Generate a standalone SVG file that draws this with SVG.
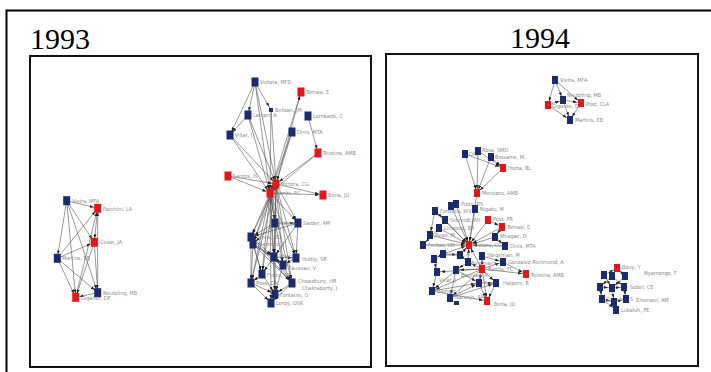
<svg xmlns="http://www.w3.org/2000/svg" width="711" height="372" viewBox="0 0 711 372">
<style>
.frame{fill:none;stroke:#000;stroke-width:2}
.box{fill:#fff;stroke:#111;stroke-width:2}
.year{font-family:"Liberation Serif",serif;font-size:30px;fill:#000}
.b{fill:#1c2a6e}
.r{fill:#e8141c}
.lb{font-family:"DejaVu Sans Condensed","Liberation Sans",sans-serif;font-size:5.5px;fill:#8a8a8a}
.e line{stroke:#555;stroke-width:0.6;marker-end:url(#ah)}
</style>
<defs>
<marker id="ah" markerUnits="userSpaceOnUse" markerWidth="4" markerHeight="3" refX="8" refY="1.5" orient="auto"><path d="M0,0L4,1.5L0,3z" fill="#222"/></marker>
</defs>
<rect x="0" y="0" width="711" height="372" fill="#fff"/>
<rect class="frame" x="6.5" y="10.5" width="720" height="400"/>
<text class="year" x="30" y="49">1993</text>
<text class="year" x="510" y="48">1994</text>
<rect class="box" x="30" y="56" width="341" height="311"/>
<rect class="box" x="386" y="54" width="312" height="312"/>
<g id="connectors" class="e">
<!-- 1993 left -->
<line x1="66.7" y1="200.7" x2="97.7" y2="208.3"/>
<line x1="66.7" y1="200.7" x2="94.3" y2="242.3"/>
<line x1="66.7" y1="200.7" x2="57.3" y2="258.3"/>
<line x1="66.7" y1="200.7" x2="97.7" y2="292.7"/>
<line x1="66.7" y1="200.7" x2="75.7" y2="297.3"/>
<line x1="97.7" y1="208.3" x2="94.3" y2="242.3"/>
<line x1="57.3" y1="258.3" x2="97.7" y2="208.3"/>
<line x1="97.7" y1="292.7" x2="97.7" y2="208.3"/>
<line x1="75.7" y1="297.3" x2="97.7" y2="208.3"/>
<line x1="57.3" y1="258.3" x2="94.3" y2="242.3"/>
<line x1="94.3" y1="242.3" x2="97.7" y2="292.7"/>
<line x1="94.3" y1="242.3" x2="75.7" y2="297.3"/>
<line x1="57.3" y1="258.3" x2="97.7" y2="292.7"/>
<line x1="57.3" y1="258.3" x2="75.7" y2="297.3"/>
<line x1="97.7" y1="292.7" x2="75.7" y2="297.3"/>
<!-- 1993 centre top -->
<line x1="255" y1="82" x2="248" y2="115"/>
<line x1="255" y1="82" x2="230" y2="135"/>
<line x1="255" y1="82" x2="271" y2="110"/>
<line x1="255" y1="82" x2="276" y2="184"/>
<line x1="255" y1="82" x2="270" y2="193"/>
<line x1="248" y1="115" x2="230" y2="135"/>
<line x1="248" y1="115" x2="276" y2="184"/>
<line x1="248" y1="115" x2="270" y2="193"/>
<line x1="230" y1="135" x2="276" y2="184"/>
<line x1="230" y1="135" x2="270" y2="193"/>
<line x1="271" y1="110" x2="276" y2="184"/>
<line x1="271" y1="110" x2="270" y2="193"/>
<line x1="270" y1="193" x2="301" y2="92"/>
<line x1="276" y1="184" x2="301" y2="92"/>
<line x1="292" y1="132" x2="276" y2="184"/>
<line x1="292" y1="132" x2="270" y2="193"/>
<line x1="308" y1="116" x2="318" y2="153"/>
<line x1="318" y1="153" x2="270" y2="193"/>
<line x1="318" y1="153" x2="276" y2="184"/>
<line x1="228" y1="176" x2="276" y2="184"/>
<line x1="228" y1="176" x2="270" y2="193"/>
<line x1="276" y1="184" x2="323" y2="195"/>
<line x1="270" y1="193" x2="323" y2="195"/>
<line x1="276" y1="184" x2="270" y2="193"/>
<!-- 1993 centre bottom -->
<line x1="270" y1="193" x2="275" y2="223"/>
<line x1="270" y1="193" x2="298" y2="223"/>
<line x1="270" y1="193" x2="251" y2="237"/>
<line x1="270" y1="193" x2="253" y2="244"/>
<line x1="270" y1="193" x2="274" y2="257"/>
<line x1="270" y1="193" x2="296" y2="258"/>
<line x1="270" y1="193" x2="283" y2="265"/>
<line x1="270" y1="193" x2="262" y2="274"/>
<line x1="270" y1="193" x2="251" y2="283"/>
<line x1="270" y1="193" x2="292" y2="283"/>
<line x1="270" y1="193" x2="275" y2="294"/>
<line x1="270" y1="193" x2="271" y2="303"/>
<line x1="276" y1="184" x2="275" y2="223"/>
<line x1="276" y1="184" x2="298" y2="223"/>
<line x1="276" y1="184" x2="251" y2="237"/>
<line x1="276" y1="184" x2="253" y2="244"/>
<line x1="276" y1="184" x2="274" y2="257"/>
<line x1="276" y1="184" x2="296" y2="258"/>
<line x1="276" y1="184" x2="283" y2="265"/>
<line x1="276" y1="184" x2="262" y2="274"/>
<line x1="276" y1="184" x2="251" y2="283"/>
<line x1="276" y1="184" x2="292" y2="283"/>
<line x1="276" y1="184" x2="275" y2="294"/>
<line x1="275" y1="223" x2="298" y2="223"/>
<line x1="275" y1="223" x2="251" y2="237"/>
<line x1="275" y1="223" x2="253" y2="244"/>
<line x1="275" y1="223" x2="274" y2="257"/>
<line x1="298" y1="223" x2="296" y2="258"/>
<line x1="298" y1="223" x2="274" y2="257"/>
<line x1="298" y1="223" x2="251" y2="237"/>
<line x1="251" y1="237" x2="253" y2="244"/>
<line x1="251" y1="237" x2="274" y2="257"/>
<line x1="251" y1="237" x2="251" y2="283"/>
<line x1="253" y1="244" x2="274" y2="257"/>
<line x1="253" y1="244" x2="262" y2="274"/>
<line x1="253" y1="244" x2="251" y2="283"/>
<line x1="274" y1="257" x2="296" y2="258"/>
<line x1="274" y1="257" x2="283" y2="265"/>
<line x1="274" y1="257" x2="262" y2="274"/>
<line x1="274" y1="257" x2="292" y2="283"/>
<line x1="296" y1="258" x2="283" y2="265"/>
<line x1="283" y1="265" x2="292" y2="283"/>
<line x1="283" y1="265" x2="275" y2="294"/>
<line x1="262" y1="274" x2="251" y2="283"/>
<line x1="262" y1="274" x2="275" y2="294"/>
<line x1="251" y1="283" x2="275" y2="294"/>
<line x1="251" y1="283" x2="271" y2="303"/>
<line x1="292" y1="283" x2="275" y2="294"/>
<line x1="292" y1="283" x2="271" y2="303"/>
<line x1="275" y1="294" x2="271" y2="303"/>
<line x1="251" y1="237" x2="262" y2="274"/>
<line x1="253" y1="244" x2="283" y2="265"/>
<line x1="274" y1="257" x2="275" y2="294"/>
<line x1="251" y1="237" x2="292" y2="283"/>
<line x1="253" y1="244" x2="292" y2="283"/>
<!-- 1994 top -->
<line x1="555" y1="80" x2="548" y2="105"/>
<line x1="555" y1="80" x2="563" y2="100"/>
<line x1="555" y1="80" x2="581" y2="103"/>
<line x1="548" y1="105" x2="570" y2="120"/>
<line x1="563" y1="100" x2="570" y2="120"/>
<line x1="581" y1="103" x2="570" y2="120"/>
<line x1="548" y1="105" x2="563" y2="100"/>
<line x1="563" y1="100" x2="581" y2="103"/>
<!-- 1994 middle -->
<line x1="465" y1="154" x2="503" y2="168"/>
<line x1="478" y1="151" x2="503" y2="168"/>
<line x1="491" y1="157" x2="503" y2="168"/>
<line x1="465" y1="154" x2="477" y2="193"/>
<line x1="478" y1="151" x2="477" y2="193"/>
<line x1="491" y1="157" x2="477" y2="193"/>
<line x1="503" y1="168" x2="477" y2="193"/>
<line x1="477" y1="193" x2="469" y2="245"/>
<!-- 1994 lower -->
<line x1="435" y1="211" x2="469" y2="245"/>
<line x1="451" y1="206" x2="469" y2="245"/>
<line x1="456" y1="204" x2="469" y2="245"/>
<line x1="445" y1="220" x2="469" y2="245"/>
<line x1="475" y1="209" x2="469" y2="245"/>
<line x1="488" y1="220" x2="469" y2="245"/>
<line x1="502" y1="227" x2="469" y2="245"/>
<line x1="439" y1="228" x2="469" y2="245"/>
<line x1="495" y1="237" x2="469" y2="245"/>
<line x1="430" y1="235" x2="469" y2="245"/>
<line x1="423" y1="245" x2="469" y2="245"/>
<line x1="505" y1="246" x2="469" y2="245"/>
<line x1="443" y1="254" x2="469" y2="245"/>
<line x1="460" y1="255" x2="469" y2="245"/>
<line x1="468" y1="262" x2="469" y2="245"/>
<line x1="482" y1="269" x2="469" y2="245"/>
<line x1="488" y1="220" x2="502" y2="227"/>
<line x1="435" y1="211" x2="445" y2="220"/>
<line x1="435" y1="211" x2="430" y2="235"/>
<line x1="439" y1="228" x2="423" y2="245"/>
<line x1="495" y1="237" x2="505" y2="246"/>
<line x1="502" y1="227" x2="495" y2="237"/>
<line x1="482" y1="269" x2="526" y2="274"/>
<line x1="482" y1="269" x2="503" y2="262"/>
<line x1="482" y1="269" x2="482" y2="256"/>
<line x1="482" y1="269" x2="479" y2="283"/>
<line x1="482" y1="269" x2="496" y2="283"/>
<line x1="482" y1="269" x2="487" y2="301"/>
<line x1="482" y1="269" x2="456" y2="270"/>
<line x1="482" y1="269" x2="450" y2="298"/>
<line x1="482" y1="269" x2="432" y2="291"/>
<line x1="482" y1="269" x2="437" y2="272"/>
<line x1="482" y1="269" x2="468" y2="262"/>
<line x1="456" y1="270" x2="450" y2="298"/>
<line x1="456" y1="270" x2="432" y2="291"/>
<line x1="456" y1="270" x2="479" y2="283"/>
<line x1="450" y1="298" x2="479" y2="283"/>
<line x1="432" y1="291" x2="479" y2="283"/>
<line x1="479" y1="283" x2="496" y2="283"/>
<line x1="479" y1="283" x2="487" y2="301"/>
<line x1="496" y1="283" x2="487" y2="301"/>
<line x1="443" y1="254" x2="434" y2="259"/>
<line x1="434" y1="259" x2="437" y2="272"/>
<line x1="437" y1="272" x2="432" y2="291"/>
<line x1="443" y1="254" x2="460" y2="255"/>
<line x1="460" y1="255" x2="468" y2="262"/>
<line x1="482" y1="256" x2="503" y2="262"/>
<line x1="503" y1="262" x2="526" y2="274"/>
<line x1="468" y1="262" x2="456" y2="270"/>
<line x1="450" y1="298" x2="496" y2="283"/>
<line x1="432" y1="291" x2="487" y2="301"/>
<!-- 1994 right -->
<line x1="604" y1="275" x2="617" y2="268"/>
<line x1="612" y1="276" x2="617" y2="268"/>
<line x1="625" y1="276" x2="617" y2="268"/>
<line x1="604" y1="275" x2="612" y2="288"/>
<line x1="612" y1="276" x2="600" y2="287"/>
<line x1="625" y1="276" x2="612" y2="288"/>
<line x1="612" y1="276" x2="624" y2="287"/>
<line x1="600" y1="287" x2="612" y2="288"/>
<line x1="612" y1="288" x2="624" y2="287"/>
<line x1="600" y1="287" x2="602" y2="299"/>
<line x1="612" y1="288" x2="614" y2="302"/>
<line x1="624" y1="287" x2="626" y2="299"/>
<line x1="602" y1="299" x2="614" y2="302"/>
<line x1="614" y1="302" x2="626" y2="299"/>
<line x1="614" y1="302" x2="616" y2="310"/>
<line x1="602" y1="299" x2="616" y2="310"/>
</g>
<!-- 1993 left nodes -->
<g id="n93-vieira"><rect class="b" x="63.2" y="196.2" width="7" height="9"/><text class="lb" x="72" y="203">Vieira, MFA</text></g>
<g id="n93-facchini"><rect class="r" x="94.2" y="203.8" width="7" height="9"/><text class="lb" x="103" y="211">Facchini, LA</text></g>
<g id="n93-cesar"><rect class="r" x="90.8" y="237.8" width="7" height="9"/><text class="lb" x="100" y="244">Cesar, JA</text></g>
<g id="n93-martins"><rect class="b" x="53.8" y="253.8" width="7" height="9"/><text class="lb" x="62" y="260">Martins, EB</text></g>
<g id="n93-neutzling"><rect class="b" x="94.2" y="288.2" width="7" height="9"/><text class="lb" x="103" y="295">Neutzling, MB</text></g>
<g id="n93-gigante"><rect class="r" x="72.2" y="292.8" width="7" height="9"/><text class="lb" x="81" y="300">Gigante, DP</text></g>
<!-- 1993 centre nodes -->
<g id="n93-victora-mfd"><rect class="b" x="251.5" y="77.5" width="7" height="9"/><text class="lb" x="260" y="84">Victora, MFD</text></g>
<g id="n93-tomasi"><rect class="r" x="297.5" y="87.5" width="7" height="9"/><text class="lb" x="306" y="94">Tomasi, E</text></g>
<g id="n93-belizan"><rect class="b" x="269" y="108" width="4" height="4"/><text class="lb" x="275" y="112">Belizan, JM</text></g>
<g id="n93-lombardi"><rect class="b" x="304.5" y="111.5" width="7" height="9"/><text class="lb" x="313" y="118">Lombardi, C</text></g>
<g id="n93-langer"><rect class="b" x="244.5" y="110.5" width="7" height="9"/><text class="lb" x="253" y="117">Langer, A</text></g>
<g id="n93-villar"><rect class="b" x="226.5" y="130.5" width="7" height="9"/><text class="lb" x="235" y="137">Villar, J</text></g>
<g id="n93-dinis"><rect class="b" x="288.5" y="127.5" width="7" height="9"/><text class="lb" x="297" y="134">Dinis, MTA</text></g>
<g id="n93-teixeira"><rect class="r" x="314.5" y="148.5" width="7" height="9"/><text class="lb" x="323" y="155">Teixeira, AMB</text></g>
<g id="n93-santos"><rect class="r" x="224.5" y="171.5" width="7" height="9"/><text class="lb" x="233" y="178">Santos, IS</text></g>
<g id="n93-victora-cg"><rect class="r" x="272.5" y="179.5" width="7" height="9"/><text class="lb" x="281" y="186">Victora, CG</text></g>
<g id="n93-barros"><rect class="r" x="266.5" y="188.5" width="7" height="9"/><text class="lb" x="275" y="195">Barros, FC</text></g>
<g id="n93-beria"><rect class="r" x="319.5" y="190.5" width="7" height="9"/><text class="lb" x="328" y="197">Béria, JU</text></g>
<g id="n93-gavere"><rect class="b" x="271.5" y="218.5" width="7" height="9"/><text class="lb" x="280" y="225">Gavere</text></g>
<g id="n93-sarder"><rect class="b" x="294.5" y="218.5" width="7" height="9"/><text class="lb" x="303" y="225">Sarder, AM</text></g>
<g id="n93-yunus"><rect class="b" x="247.5" y="232.5" width="7" height="9"/><text class="lb" x="256" y="239">Yunus, MD</text></g>
<g id="n93-martinez"><rect class="b" x="249.5" y="239.5" width="7" height="9"/><text class="lb" x="258" y="246">Martinez, J</text></g>
<g id="n93-khan"><rect class="b" x="270.5" y="252.5" width="7" height="9"/><text class="lb" x="279" y="258">Khan, M</text></g>
<g id="n93-huttly"><rect class="b" x="292.5" y="253.5" width="7" height="9"/><text class="lb" x="302" y="261">Huttly, SR</text></g>
<g id="n93-fauveau"><rect class="b" x="279.5" y="260.5" width="7" height="9"/><text class="lb" x="289" y="270">Fauveau, V</text></g>
<g id="n93-fuchs"><rect class="b" x="258.5" y="269.5" width="7" height="9"/><text class="lb" x="267" y="277">Fuchs, SC</text></g>
<g id="n93-ross"><rect class="b" x="247.5" y="278.5" width="7" height="9"/><text class="lb" x="256" y="285">Ross, DA</text></g>
<g id="n93-chowdhury"><rect class="b" x="288.5" y="278.5" width="7" height="9"/><text class="lb" x="298" y="283">Chowdhury, HR</text></g>
<g id="n93-fontaine"><rect class="b" x="271.5" y="289.5" width="7" height="9"/><text class="lb" x="280" y="297">Fontaine, O</text></g>
<g id="n93-chakraborty"><text class="lb" x="302" y="290">Chakraborty, J</text></g>
<g id="n93-leroy"><rect class="b" x="267.5" y="298.5" width="7" height="9"/><text class="lb" x="276" y="305">Leroy, OSK</text></g>
<!-- 1994 top nodes -->
<g id="n94-vieira"><rect class="b" x="552" y="76" width="6" height="8"/><text class="lb" x="560" y="82">Vieira, MFA</text></g>
<g id="n94-neutzling"><rect class="b" x="560" y="96" width="6" height="8"/><text class="lb" x="567" y="97">Neutzling, MB</text></g>
<g id="n94-gigante"><rect class="r" x="545" y="101" width="6" height="8"/><text class="lb" x="552" y="108">Gigante, DP</text></g>
<g id="n94-post-cla"><rect class="r" x="578" y="99" width="6" height="8"/><text class="lb" x="586" y="106">Post, CLA</text></g>
<g id="n94-martins"><rect class="b" x="567" y="116" width="6" height="8"/><text class="lb" x="575" y="122">Martins, EB</text></g>
<!-- 1994 middle nodes -->
<g id="n94-oliv"><rect class="b" x="462" y="150" width="6" height="8"/><text class="lb" x="469" y="156">Oliv</text></g>
<g id="n94-rosa"><rect class="b" x="475" y="147" width="6" height="8"/><text class="lb" x="482" y="151.5">Rosa, SMD</text></g>
<g id="n94-brosame"><rect class="b" x="488" y="153" width="6" height="8"/><text class="lb" x="495" y="159">Brosame, M</text></g>
<g id="n94-horta"><rect class="r" x="500" y="164" width="6" height="8"/><text class="lb" x="508" y="170">Horta, BL</text></g>
<g id="n94-menezes"><rect class="r" x="474" y="189" width="6" height="8"/><text class="lb" x="482" y="195">Menezes, AMB</text></g>
<!-- 1994 lower nodes -->
<g id="n94-fonseca"><rect class="b" x="432" y="207" width="6" height="8"/><text class="lb" x="440" y="213">Fonseca, WV</text></g>
<g id="n94-pizzo1"><rect class="b" x="448" y="202" width="6" height="8"/></g>
<g id="n94-pizzo2"><rect class="b" x="453" y="200" width="6" height="8"/><text class="lb" x="461" y="206">Pizzo, RS</text></g>
<g id="n94-schmidt"><rect class="b" x="442" y="216" width="6" height="8"/><text class="lb" x="450" y="222">Schmidt, AH</text></g>
<g id="n94-nigatu"><rect class="b" x="472" y="205" width="6" height="8"/><text class="lb" x="480" y="211">Nigatu, M</text></g>
<g id="n94-post-pr"><rect class="r" x="485" y="216" width="6" height="8"/><text class="lb" x="493" y="221">Post, PR</text></g>
<g id="n94-tomasi"><rect class="r" x="499" y="223" width="6" height="8"/><text class="lb" x="507" y="229">Tomasi, E</text></g>
<g id="n94-linwood"><rect class="b" x="436" y="224" width="6" height="8"/><text class="lb" x="444" y="230">Linwood, BR</text></g>
<g id="n94-mhagae"><rect class="b" x="492" y="233" width="6" height="8"/><text class="lb" x="500" y="238">Mhagae, D</text></g>
<g id="n94-rego"><rect class="b" x="427" y="231" width="6" height="8"/><text class="lb" x="435" y="237">Rego, M</text></g>
<g id="n94-freitas"><rect class="b" x="420" y="241" width="6" height="8"/><text class="lb" x="428" y="247">Freitas, SM</text></g>
<g id="n94-victora"><rect class="r" x="466" y="241" width="6" height="8"/><text class="lb" x="474" y="247">Victora, CG</text></g>
<g id="n94-dinis"><rect class="b" x="502" y="242" width="6" height="8"/><text class="lb" x="510" y="248">Dinis, MTA</text></g>
<g id="n94-langer"><rect class="b" x="440" y="250" width="6" height="8"/><text class="lb" x="446" y="256">Langer, A</text></g>
<g id="n94-bergmann"><rect class="b" x="457" y="251" width="6" height="8"/><text class="lb" x="471" y="265">Bergmann,</text></g>
<g id="n94-b2"><rect class="b" x="465" y="258" width="6" height="8"/></g>
<g id="n94-stegeman"><rect class="b" x="479" y="252" width="6" height="8"/><text class="lb" x="487" y="257">Stegeman, M</text></g>
<g id="n94-x1"><rect class="b" x="431" y="255" width="6" height="8"/></g>
<g id="n94-gonzalez"><rect class="b" x="500" y="258" width="6" height="8"/><text class="lb" x="508" y="264">Gonzalez-Richmond, A</text></g>
<g id="n94-barros"><rect class="r" x="479" y="265" width="6" height="8"/><text class="lb" x="488" y="271">Barros, FC</text></g>
<g id="n94-teixeira"><rect class="r" x="523" y="270" width="6" height="8"/><text class="lb" x="531" y="277">Teixeira, AMB</text></g>
<g id="n94-villar"><rect class="b" x="434" y="268" width="6" height="8"/><text class="lb" x="439" y="282">Villar, J</text></g>
<g id="n94-bhuiyan"><rect class="b" x="453" y="266" width="6" height="8"/><text class="lb" x="461" y="277">Bhuiyan, A</text></g>
<g id="n94-fuchs"><rect class="b" x="476" y="279" width="6" height="8"/><text class="lb" x="484" y="285">Fuchs</text></g>
<g id="n94-halpern"><rect class="b" x="493" y="279" width="6" height="8"/><text class="lb" x="503" y="285">Halpern, R</text></g>
<g id="n94-barnett"><rect class="b" x="429" y="287" width="6" height="8"/><text class="lb" x="437" y="293">Barnett, L</text></g>
<g id="n94-naranjo"><rect class="b" x="447" y="294" width="6" height="8"/><text class="lb" x="455" y="299">Naranjo, AMa</text></g>
<g id="n94-beria"><rect class="r" x="484" y="297" width="6" height="8"/><text class="lb" x="494" y="306">Béria, JU</text></g>
<g id="n94-sm"><rect class="b" x="454" y="301" width="5" height="4"/></g>
<!-- 1994 right nodes -->
<g id="n94-bouy"><rect class="r" x="614" y="264" width="6" height="8"/><text class="lb" x="622" y="269">Bouy, Y</text></g>
<g id="n94-nyamongo"><rect class="b" x="622" y="272" width="6" height="8"/><text class="lb" x="644" y="275">Nyamongo, F</text></g>
<g id="n94-r1"><rect class="b" x="601" y="271" width="6" height="8"/></g>
<g id="n94-r2"><rect class="b" x="609" y="272" width="6" height="8"/></g>
<g id="n94-r4"><rect class="b" x="597" y="283" width="6" height="8"/></g>
<g id="n94-r5"><rect class="b" x="609" y="284" width="6" height="8"/></g>
<g id="n94-sobel"><rect class="b" x="621" y="283" width="6" height="8"/><text class="lb" x="630" y="289">Sobel, CE</text></g>
<g id="n94-cousens"><rect class="b" x="599" y="295" width="6" height="8"/><text class="lb" x="606" y="301">Cousens, S</text></g>
<g id="n94-r8"><rect class="b" x="611" y="298" width="6" height="8"/></g>
<g id="n94-emerson"><rect class="b" x="623" y="295" width="6" height="8"/><text class="lb" x="636" y="302">Emerson, AM</text></g>
<g id="n94-lukaluh"><rect class="b" x="613" y="306" width="6" height="8"/><text class="lb" x="621" y="312">Lukaluh, PE</text></g>
</svg>
